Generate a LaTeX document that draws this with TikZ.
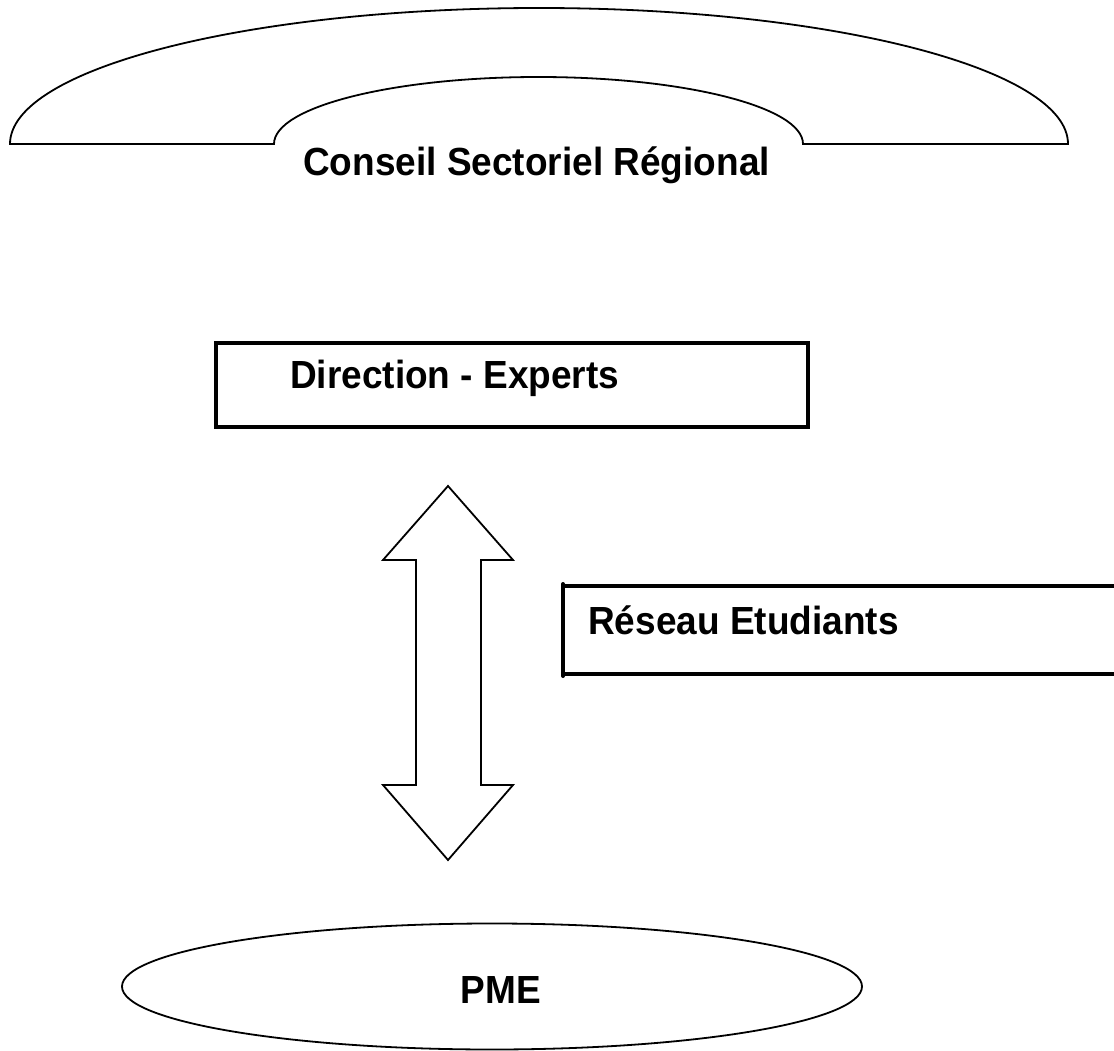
\documentclass[tikz,border=0pt]{standalone}
\usepackage{fontspec}
\setmainfont{Liberation Sans}
\usetikzlibrary{shapes.geometric}
\newcommand{\tallbold}[1]{\scalebox{1}[1.06]{#1}}
\begin{document}
\begin{tikzpicture}[x=1pt,y=-1pt,
  thinline/.style={draw=black,line width=1.8pt,line join=miter},
  boxline/.style={draw=black,line width=3.2pt},
  label/.style={font=\fontsize{37}{44}\selectfont\bfseries,inner sep=0pt,anchor=base west}]
\useasboundingbox[fill=white] (0,0) rectangle (1114,1051);

% arch of the regional council
\draw[thinline] (10,144) arc[start angle=180,end angle=360,x radius=529,y radius=136]
  -- (803,144) arc[start angle=360,end angle=180,x radius=264.5,y radius=67]
  -- cycle;
\node[label] (conseil) at (303,176) {\tallbold{Conseil Sectoriel Régional}};

% management box
\node[boxline,minimum width=592pt,minimum height=84pt,inner sep=0pt] (direction) at (512,385) {};
\node[label] (directiontxt) at (290,388) {\tallbold{Direction - Experts}};

% two-way block arrow
\coordinate (uptip) at (448,486);
\coordinate (downtip) at (448,860);
\draw[thinline] (uptip) -- (513,560) -- (481,560) -- (481,785) -- (513,785)
  -- (downtip) -- (383,785) -- (416,785) -- (416,560) -- (383,560) -- cycle;

% student network box, open on the right
\coordinate (rtl) at (563,586);
\coordinate (rbl) at (563,674);
\draw[boxline] (1120,586) -- (rtl) -- (rbl) -- (1120,674);
\fill (563,584) circle (2pt) (563,676) circle (2pt);
\node[label] (reseau) at (588,634) {\tallbold{Réseau Etudiants}};

% SMEs
\node[thinline,ellipse,minimum width=740pt,minimum height=126pt,inner sep=0pt] (pmeshape) at (492,986.5) {};
\node[label,anchor=base] (pme) at (501,1003) {\tallbold{PME}};
\end{tikzpicture}
\end{document}
